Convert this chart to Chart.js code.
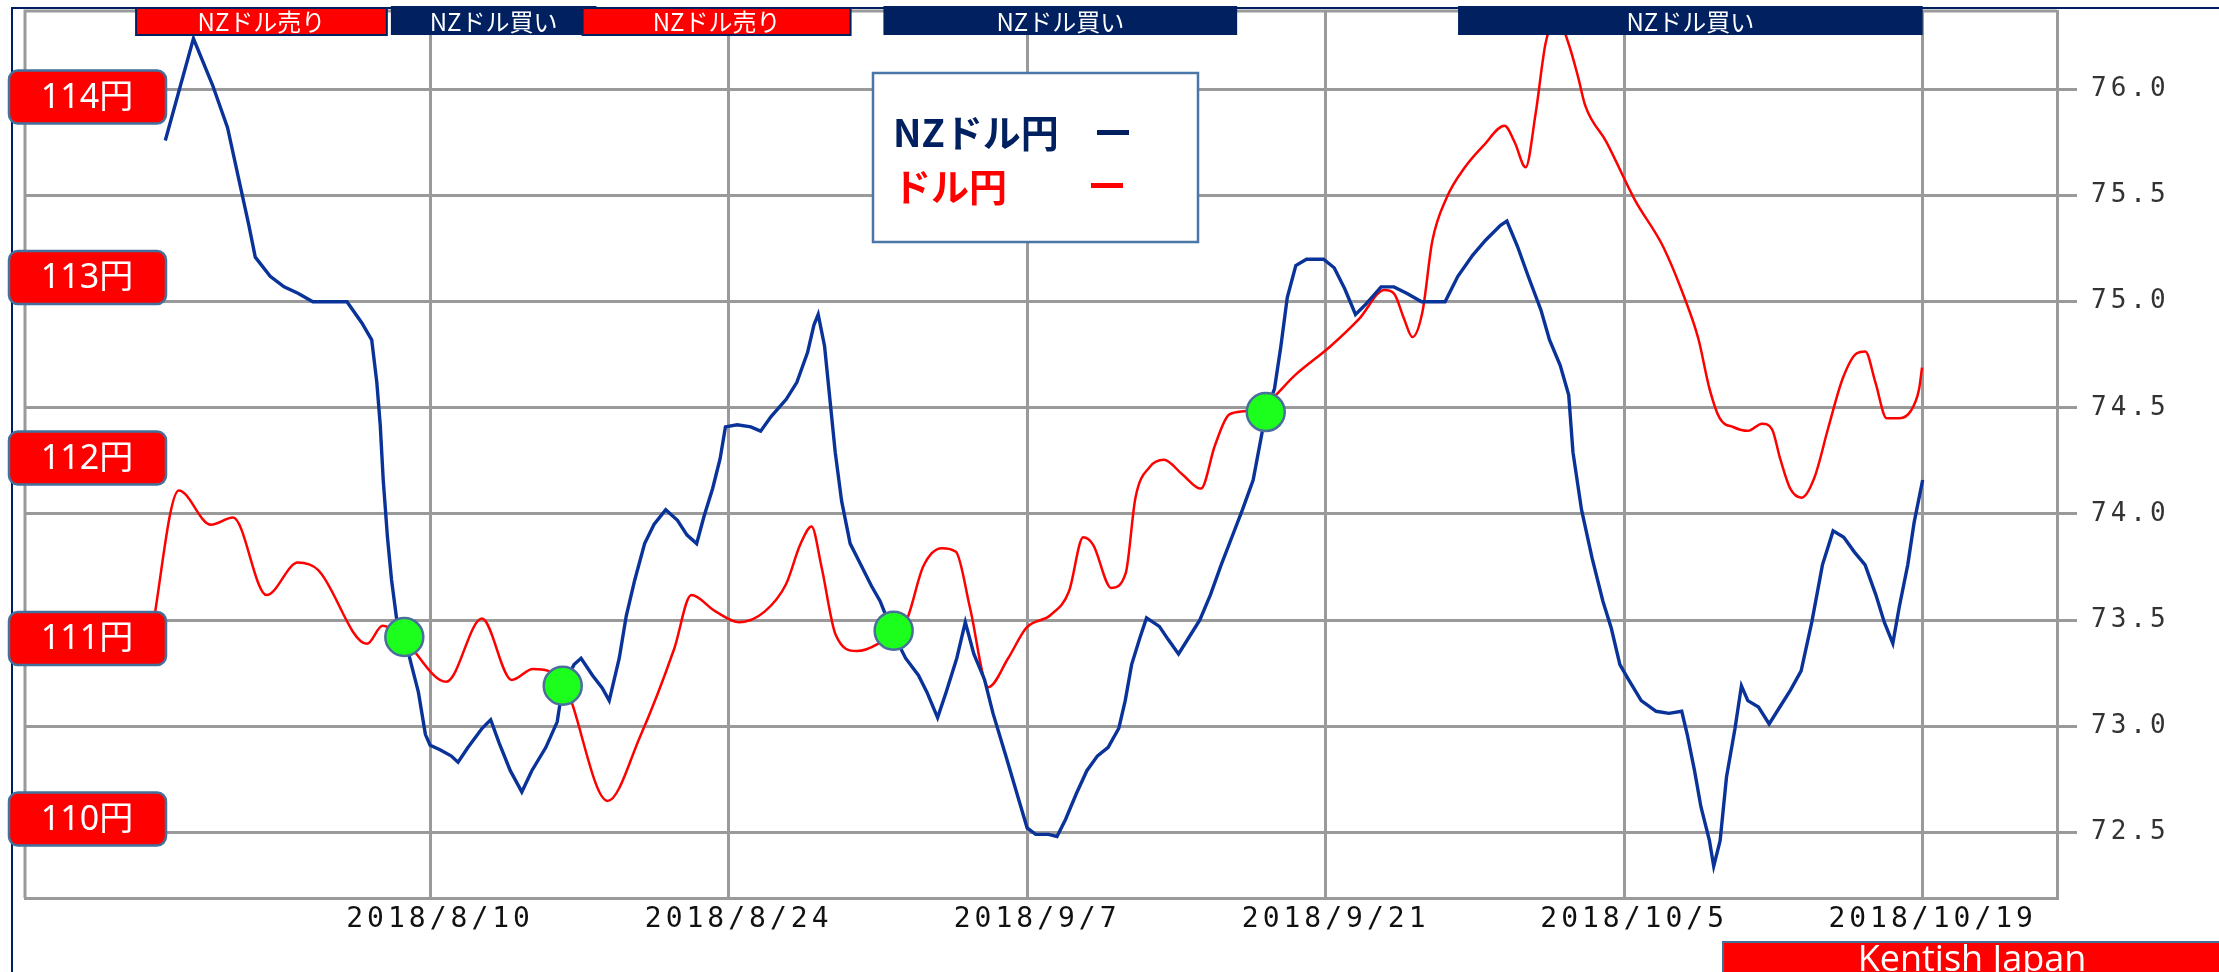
<!DOCTYPE html>
<html>
<head>
<meta charset="utf-8">
<script src="https://cdn.jsdelivr.net/npm/chart.js@4.4.0/dist/chart.umd.min.js"></script>
<style>
html, body { margin: 0; padding: 0; background: #fff; }
#wrap { position: relative; width: 2219px; height: 972px; }
</style>
</head>
<body>
<div id="wrap"><canvas id="fxChart"></canvas></div>
<script>
// x values are days counted from 2018/8/10
const tickDays = [0, 14, 28, 42, 56, 70];
const tickLabels = ['2018/8/10', '2018/8/24', '2018/9/7', '2018/9/21', '2018/10/5', '2018/10/19'];
const nzTicks = [72.5, 73.0, 73.5, 74.0, 74.5, 75.0, 75.5, 76.0];
const yenMarks = [114, 113, 112, 111, 110];

// NZD/JPY (right axis)
const nzDays = [-12.42, -11.1, -10.2, -9.5, -9.0, -8.5, -8.2, -7.5, -6.85, -6.2, -5.5, -3.9, -3.2, -2.74, -2.5, -2.34, -2.2, -2.0, -1.81, -1.55,
    -1.2, -0.88, -0.55, -0.22, 0, 0.44, 0.98, 1.31, 1.78, 2.44, 2.84, 3.24, 3.76, 4.3, 4.77, 5.43, 5.96, 6.22, 6.75, 7.08,
    7.61, 8.07, 8.4, 8.87, 9.2, 9.6, 10.06, 10.5, 11.05, 11.6, 12.05, 12.5, 12.85, 13.25, 13.6, 13.85, 14.4, 15.04, 15.5, 16.0,
    16.7, 17.2, 17.7, 18.0, 18.2, 18.5, 18.7, 19.0, 19.3, 19.7, 20.2, 20.7, 21.1, 21.7, 22.3, 22.9, 23.3, 23.8, 24.2, 24.7,
    25.1, 25.5, 26.0, 26.4, 27.0, 27.5, 28.0, 28.4, 29.0, 29.4, 29.8, 30.3, 30.8, 31.3, 31.8, 32.3, 32.6, 32.9, 33.3, 33.6,
    34.2, 34.6, 35.1, 35.6, 36.1, 36.6, 37.1, 37.6, 38.1, 38.6, 39.2, 39.6, 39.9, 40.2, 40.6, 41.1, 41.9, 42.4, 42.9, 43.4,
    43.9, 44.6, 45.2, 45.8, 46.5, 47.6, 48.2, 48.9, 49.5, 50.2, 50.5, 51.0, 51.5, 52.1, 52.5, 53.0, 53.4, 53.6, 54.0, 54.5,
    55.0, 55.4, 55.8, 56.2, 56.8, 57.5, 58.1, 58.7, 58.96, 59.3, 59.6, 60.0, 60.2, 60.5, 60.8, 61.2, 61.5, 61.8, 62.3, 62.8,
    63.3, 63.8, 64.3, 64.8, 65.3, 65.8, 66.3, 66.8, 67.3, 67.8, 68.2, 68.6, 68.9, 69.3, 69.6, 70.0];
const nzRate = [75.76, 76.24, 76.02, 75.82, 75.59, 75.36, 75.21, 75.12, 75.07, 75.04, 75.00, 75.00, 74.90, 74.82, 74.62, 74.42, 74.16, 73.89, 73.69, 73.49,
    73.42, 73.29, 73.16, 72.96, 72.91, 72.89, 72.86, 72.83, 72.90, 72.99, 73.03, 72.92, 72.79, 72.69, 72.79, 72.90, 73.02, 73.19, 73.29, 73.32,
    73.24, 73.18, 73.12, 73.32, 73.52, 73.69, 73.86, 73.95, 74.02, 73.97, 73.90, 73.86, 73.99, 74.12, 74.26, 74.41, 74.42, 74.41, 74.39, 74.46,
    74.54, 74.62, 74.76, 74.89, 74.94, 74.79, 74.59, 74.29, 74.06, 73.86, 73.76, 73.66, 73.59, 73.44, 73.32, 73.24, 73.16, 73.04, 73.16, 73.32,
    73.49, 73.34, 73.22, 73.06, 72.86, 72.69, 72.52, 72.49, 72.49, 72.48, 72.56, 72.68, 72.79, 72.86, 72.90, 72.99, 73.12, 73.29, 73.42, 73.51,
    73.47, 73.41, 73.34, 73.42, 73.50, 73.62, 73.76, 73.89, 74.02, 74.16, 74.48, 74.59, 74.79, 75.02, 75.17, 75.20, 75.20, 75.16, 75.06, 74.94,
    74.99, 75.07, 75.07, 75.04, 75.00, 75.00, 75.12, 75.22, 75.29, 75.36, 75.38, 75.26, 75.12, 74.96, 74.82, 74.70, 74.56, 74.29, 74.02, 73.79,
    73.59, 73.46, 73.29, 73.22, 73.12, 73.07, 73.06, 73.07, 72.96, 72.79, 72.62, 72.46, 72.34, 72.46, 72.76, 72.99, 73.19, 73.12, 73.09, 73.01,
    73.09, 73.17, 73.26, 73.49, 73.76, 73.92, 73.89, 73.82, 73.76, 73.62, 73.49, 73.39, 73.56, 73.76, 73.96, 74.16];

// USD/JPY (left, hidden axis)
const usdDays = [-13.1, -11.79, -10.28, -9.24, -7.67, -6.2, -5.26, -2.96, -2.23, -1.28, 0.76, 2.43, 3.83, 4.82, 6.25, 8.32, 9.86, 11.44, 12.25, 13.38,
    14.5, 15.7, 16.69, 17.36, 17.89, 18.35, 19.02, 20.01, 21.0, 22.34, 23.13, 24.0, 24.66, 25.32, 26.18, 27.11, 27.97, 29.1, 29.96, 30.63,
    31.09, 31.95, 32.62, 33.08, 33.75, 34.41, 35.27, 36.15, 36.81, 37.47, 38.26, 39.19, 40.58, 42.24, 43.57, 44.76, 45.21, 45.68, 46.07, 46.54,
    47.0, 47.67, 48.53, 49.4, 50.39, 50.86, 51.38, 51.85, 52.32, 52.85, 53.38, 53.84, 54.18, 55.17, 56.5, 57.83, 58.82, 59.48, 60.01, 60.48,
    61.14, 61.8, 62.47, 62.93, 63.33, 63.79, 64.33, 64.92, 65.58, 66.25, 66.91, 67.31, 67.78, 68.31, 68.91, 69.44, 69.83, 69.97];
const usdRate = [111.0, 111.82, 111.63, 111.67, 111.24, 111.42, 111.38, 110.97, 111.07, 111.0, 110.76, 111.11, 110.77, 110.83, 110.75, 110.10, 110.46, 110.94, 111.24, 111.15,
    111.09, 111.15, 111.30, 111.52, 111.62, 111.40, 111.02, 110.93, 110.97, 111.10, 111.40, 111.50, 111.48, 111.17, 110.73, 110.89, 111.06, 111.13, 111.26, 111.56,
    111.52, 111.28, 111.36, 111.78, 111.95, 111.99, 111.91, 111.83, 112.07, 112.24, 112.26, 112.30, 112.46, 112.62, 112.77, 112.93, 112.91, 112.77, 112.67, 112.81,
    113.20, 113.44, 113.61, 113.73, 113.84, 113.75, 113.61, 113.91, 114.30, 114.44, 114.30, 114.11, 113.95, 113.75, 113.43, 113.17, 112.89, 112.66, 112.38, 112.22,
    112.17, 112.15, 112.19, 112.16, 111.99, 111.83, 111.78, 111.89, 112.17, 112.44, 112.58, 112.59, 112.42, 112.22, 112.22, 112.26, 112.38, 112.50];

// signal dots on the NZD/JPY line
const dotDays = [-1.21, 6.22, 21.74, 39.19];
const dotRate = [73.42, 73.19, 73.45, 74.48];

// banners along the top
const signalText = ['NZドル売り', 'NZドル買い', 'NZドル売り', 'NZドル買い', 'NZドル買い'];
const signalFrom = [-13.79, -1.84, 7.15, 21.26, 48.21];
const signalTo = [-2.03, 7.8, 19.72, 37.85, 70.0];
const signalSell = [true, false, true, false, false];

const RED = '#ff0000', NAVY = '#002060', BLUE = '#0a3399', GRID = '#9a9a9a', EDGE = '#41719c';

function rrect(ctx, x, y, w, h, r) {
    ctx.beginPath();
    ctx.roundRect(x, y, w, h, r);
}

const decor = {
    id: 'decor',
    beforeDraw(chart) {
        chart.ctx.letterSpacing = '4px';
    },
    beforeDatasetsDraw(chart) {
        const { ctx, chartArea: a } = chart;
        ctx.letterSpacing = '0px';
        ctx.save();
        ctx.strokeStyle = GRID;
        ctx.lineWidth = 3;
        ctx.beginPath();
        ctx.moveTo(a.left, a.bottom); ctx.lineTo(a.left, a.top); ctx.lineTo(a.right, a.top);
        ctx.stroke();
        ctx.restore();
    },
    afterDraw(chart) {
        const { ctx, scales } = chart;
        const x = scales.x, yL = scales.yL;
        ctx.save();
        ctx.letterSpacing = '0px';

        // outer navy frame
        ctx.strokeStyle = NAVY; ctx.lineWidth = 2;
        ctx.beginPath(); ctx.moveTo(12, 972); ctx.lineTo(12, 8); ctx.lineTo(2219, 8); ctx.stroke();

        // yen level boxes
        ctx.font = '34px "Noto Sans", "Noto Sans CJK JP", sans-serif';
        ctx.textAlign = 'center'; ctx.textBaseline = 'middle';
        yenMarks.forEach(v => {
            const cy = yL.getPixelForValue(v);
            rrect(ctx, 9, cy - 26.5, 157, 53, 9);
            ctx.fillStyle = RED; ctx.fill();
            ctx.strokeStyle = EDGE; ctx.lineWidth = 2.5; ctx.stroke();
            ctx.fillStyle = '#fff';
            ctx.fillText(v + '円', 87, cy + 1);
        });

        // legend box
        ctx.fillStyle = '#fff';
        ctx.fillRect(873, 73, 325, 169);
        ctx.strokeStyle = '#4a76a8'; ctx.lineWidth = 2.5;
        ctx.strokeRect(873, 73, 325, 169);
        ctx.font = 'bold 38px "Noto Sans CJK JP", sans-serif';
        ctx.textAlign = 'left';
        ctx.fillStyle = NAVY; ctx.fillText('NZドル円', 893, 133);
        ctx.fillStyle = RED; ctx.fillText('ドル円', 893, 187);
        ctx.lineWidth = 5;
        ctx.strokeStyle = NAVY; ctx.beginPath(); ctx.moveTo(1097, 132.5); ctx.lineTo(1129, 132.5); ctx.stroke();
        ctx.strokeStyle = RED; ctx.beginPath(); ctx.moveTo(1091, 185.5); ctx.lineTo(1123, 185.5); ctx.stroke();

        // signal banners
        ctx.font = '24px "Noto Sans CJK JP", sans-serif';
        ctx.textAlign = 'center';
        signalText.forEach((t, i) => {
            const x0 = x.getPixelForValue(signalFrom[i]);
            const x1 = x.getPixelForValue(signalTo[i]);
            if (signalSell[i]) {
                ctx.fillStyle = RED; ctx.fillRect(x0, 8, x1 - x0, 27);
                ctx.strokeStyle = NAVY; ctx.lineWidth = 2; ctx.strokeRect(x0, 8, x1 - x0, 27);
            } else {
                ctx.fillStyle = NAVY; ctx.fillRect(x0, 6, x1 - x0, 29);
            }
            ctx.fillStyle = '#fff';
            ctx.fillText(t, (x0 + x1) / 2, 22);
        });

        // brand tag
        ctx.fillStyle = RED; ctx.fillRect(1723, 942, 496, 30);
        ctx.strokeStyle = EDGE; ctx.lineWidth = 2;
        ctx.beginPath(); ctx.moveTo(1723, 972); ctx.lineTo(1723, 942); ctx.lineTo(2219, 942); ctx.stroke();
        ctx.fillStyle = '#fff';
        ctx.font = '36px "Open Sans", sans-serif';
        ctx.textBaseline = 'alphabetic';
        ctx.fillText('Kentish Japan', 1972, 971);
        ctx.restore();
    }
};

const pts = (xs, ys) => xs.map((d, i) => ({ x: d, y: ys[i] }));

new Chart(document.getElementById('fxChart').getContext('2d'), {
    type: 'line',
    data: {
        datasets: [
            { label: 'signal', data: pts(dotDays, dotRate), yAxisID: 'yR', showLine: false,
              pointRadius: 19, pointBackgroundColor: '#1cff1c', pointBorderColor: '#4a6f9c', pointBorderWidth: 2.5 },
            { label: 'NZドル円', data: pts(nzDays, nzRate), yAxisID: 'yR', borderColor: BLUE, borderWidth: 3.4,
              pointRadius: 0, tension: 0 },
            { label: 'ドル円', data: pts(usdDays, usdRate), yAxisID: 'yL', borderColor: RED, borderWidth: 2.5,
              pointRadius: 0, cubicInterpolationMode: 'monotone' }
        ]
    },
    options: {
        animation: false, responsive: true, maintainAspectRatio: false,
        layout: { autoPadding: false, padding: { left: 25, top: 11, right: 0, bottom: 0 } },
        plugins: { legend: { display: false }, tooltip: { enabled: false } },
        scales: {
            x: {
                type: 'linear', min: -19, max: 76.3,
                afterBuildTicks: s => { s.ticks = tickDays.map(v => ({ value: v })); },
                afterFit: s => { s.height = 74; s.paddingLeft = 0; s.paddingRight = 0; },
                ticks: {
                    autoSkip: false, maxRotation: 0, padding: 5, labelOffset: 10,
                    color: '#111', font: { family: 'DejaVu Sans Mono', size: 28 },
                    callback: v => tickLabels[tickDays.indexOf(v)] || ''
                },
                grid: { color: GRID, lineWidth: 3, drawTicks: false },
                border: { color: GRID, width: 3 }
            },
            yR: {
                position: 'right', min: 72.19, max: 76.37,
                afterBuildTicks: s => { s.ticks = nzTicks.map(v => ({ value: v })); },
                afterFit: s => { s.width = 162; s.paddingTop = 0; s.paddingBottom = 0; },
                ticks: {
                    padding: 14, color: '#333', font: { family: 'DejaVu Sans Mono', size: 26 },
                    callback: v => v.toFixed(1)
                },
                grid: { color: GRID, lineWidth: 3, tickLength: 20 },
                border: { color: GRID, width: 3 }
            },
            yL: {
                position: 'left', display: false, min: 109.562, max: 114.476
            }
        }
    },
    plugins: [decor]
});
</script>
</body>
</html>
